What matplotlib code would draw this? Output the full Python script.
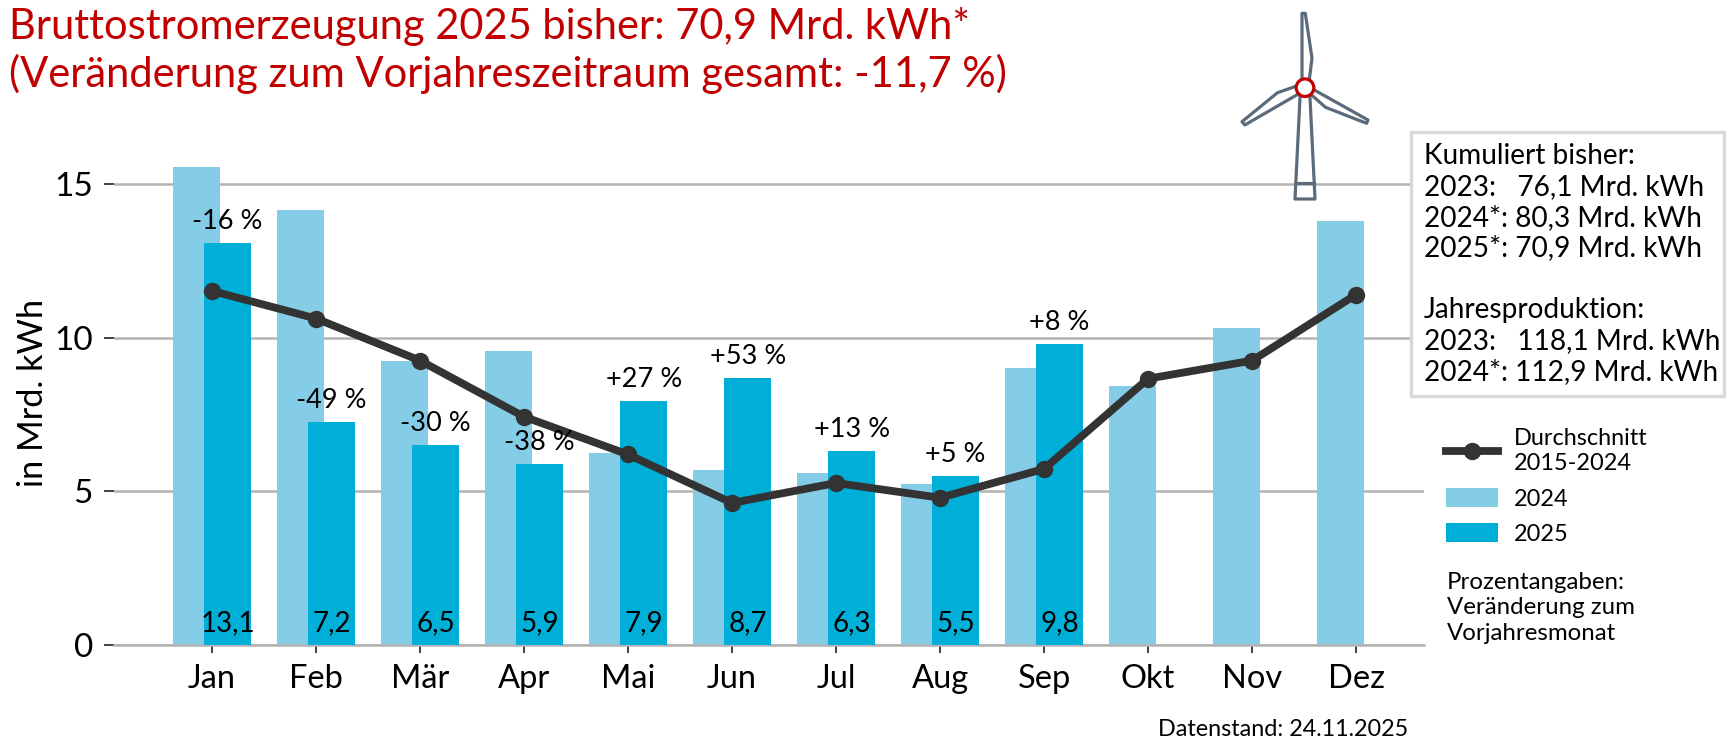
import numpy as np
import matplotlib
matplotlib.use('Agg')
import matplotlib.pyplot as plt
from matplotlib.patches import Rectangle, Circle

plt.rcParams['font.family'] = ['Lato', 'DejaVu Sans']

months = ['Jan', 'Feb', 'Mär', 'Apr', 'Mai', 'Jun', 'Jul', 'Aug', 'Sep', 'Okt', 'Nov', 'Dez']
werte_2024 = [15.57, 14.17, 9.25, 9.57, 6.25, 5.69, 5.59, 5.23, 9.03, 8.42, 10.32, 13.81]
werte_2025 = [13.1, 7.25, 6.5, 5.9, 7.95, 8.7, 6.3, 5.5, 9.8]
werte_label = ['13,1', '7,2', '6,5', '5,9', '7,9', '8,7', '6,3', '5,5', '9,8']
prozent = ['-16 %', '-49 %', '-30 %', '-38 %', '+27 %', '+53 %', '+13 %', '+5 %', '+8 %']
schnitt = [11.53, 10.63, 9.26, 7.43, 6.2, 4.62, 5.27, 4.79, 5.73, 8.67, 9.26, 11.41]

title_lines = ['Bruttostromerzeugung 2025 bisher: 70,9 Mrd. kWh*',
               '(Veränderung zum Vorjahreszeitraum gesamt: -11,7 %)']
box_lines = ['Kumuliert bisher:', '2023:   76,1 Mrd. kWh', '2024*: 80,3 Mrd. kWh', '2025*: 70,9 Mrd. kWh', '',
             'Jahresproduktion:', '2023:   118,1 Mrd. kWh', '2024*: 112,9 Mrd. kWh']
note_lines = ['Prozentangaben:', 'Veränderung zum', 'Vorjahresmonat']

HELL = '#85cde7'
DUNKEL = '#00afd8'
LINIE = '#333333'
ROT = '#c00000'
GRAU = '#b3b3b3'
TURBINE = '#5b6b7a'

W, H = 1726, 739
fig = plt.figure(figsize=(W / 100, H / 100), dpi=100)

# plot area in pixels
left, right, y_zero, y_top = 113.6, 1423.7, 644.7, 123.1
ax = fig.add_axes([left / W, 1 - y_zero / H, (right - left) / W, (y_zero - y_top) / H])

x = np.arange(len(months))
x2 = x[:len(werte_2025)]
ax.bar(x - 0.15, werte_2024, width=0.45, color=HELL, zorder=2)
ax.bar(x2 + 0.15, werte_2025, width=0.45, color=DUNKEL, zorder=3)
ax.plot(x, schnitt, color=LINIE, lw=5.6, marker='o', ms=11.5, zorder=4)

for xi, val, lab, pct in zip(x2, werte_2025, werte_label, prozent):
    ax.annotate(lab, (xi + 0.15, 0), xytext=(0, 15.5), textcoords='offset points',
                ha='center', va='center', fontsize=20, color='black', zorder=5)
    ax.annotate(pct, (xi + 0.15, val), xytext=(0, 15.5), textcoords='offset points',
                ha='center', va='center', fontsize=19.5, color='black', zorder=5)

ax.set_xlim(-0.946, 11.65)
ax.set_ylim(0, 17)
ax.set_xticks(x)
ax.set_xticklabels(months)
ax.set_yticks([0, 5, 10, 15])
ax.grid(axis='y', color=GRAU, lw=1.8, zorder=1)
ax.set_axisbelow(True)
ax.tick_params(axis='x', length=6, width=1.3, color=LINIE, labelsize=23.5, pad=8)
ax.tick_params(axis='y', length=7, width=1.3, color=LINIE, labelsize=24, pad=8)
for s in ['top', 'right', 'left']:
    ax.spines[s].set_visible(False)
ax.spines['bottom'].set_color(GRAU)
ax.spines['bottom'].set_linewidth(1.8)

# overlay in pixel coordinates for the annotations around the chart
ov = fig.add_axes([0, 0, 1, 1], facecolor='none')
ov.set_xlim(0, W)
ov.set_ylim(H, 0)
ov.axis('off')

ov.text(33, 393, 'in Mrd. kWh', rotation=90, ha='center', va='center', fontsize=24.7)

for line, y in zip(title_lines, [26, 74]):
    ov.text(9, y, line, color=ROT, fontsize=30, ha='left', va='center')

# text box
ov.add_patch(Rectangle((1411, 132), 313, 264, facecolor='white', edgecolor='#d9d9d9', lw=2.5, zorder=3))
for i, line in enumerate(box_lines):
    ov.text(1424, 164 + i * 30.8, line, fontsize=20.2, ha='left', va='baseline', zorder=4)

# legend
ov.plot([1442, 1502], [450.7, 450.7], color=LINIE, lw=5.6, solid_capstyle='butt')
ov.plot([1472], [450.7], 'o', color=LINIE, ms=11.5)
ov.text(1514, 444.7, 'Durchschnitt', fontsize=16.9, va='baseline')
ov.text(1514, 470, '2015-2024', fontsize=16.9, va='baseline')
ov.add_patch(Rectangle((1446, 488), 52, 19, color=HELL, lw=0))
ov.text(1514, 506, '2024', fontsize=16.9, va='baseline')
ov.add_patch(Rectangle((1446, 523), 52, 19, color=DUNKEL, lw=0))
ov.text(1514, 541, '2025', fontsize=16.9, va='baseline')
for line, y in zip(note_lines, [589, 614.3, 640]):
    ov.text(1447, y, line, fontsize=17.3, va='baseline')

ov.text(1408, 729, 'Datenstand: 24.11.2025', fontsize=16.8, ha='right', va='center')

# wind turbine
blade_top = [(1302, 78), (1302, 13.3), (1305.3, 13.3), (1312, 58.3), (1309.5, 78)]
blade_left = [(1296.6, 86), (1277.5, 92.7), (1242, 121.7), (1244.8, 125), (1296.6, 95)]
blade_right = [(1313, 89.3), (1368, 120), (1366.6, 123.3), (1325.5, 107.3), (1311.6, 95)]
tower = [(1300, 97.7), (1295, 199), (1315, 199), (1310, 97.7)]
for pts in [blade_top, blade_left, blade_right, tower]:
    px, py = zip(*pts)
    ov.plot(px, py, color=TURBINE, lw=2.3, solid_joinstyle='round')
ov.plot([1295.6, 1314], [182.7, 182.7], color=TURBINE, lw=2.3)
ov.add_patch(Circle((1305, 87.7), 8.8, facecolor='white', edgecolor=ROT, lw=2.3, zorder=5))
ov.set_xlim(0, W)
ov.set_ylim(H, 0)

fig.savefig('out.png', dpi=100)
